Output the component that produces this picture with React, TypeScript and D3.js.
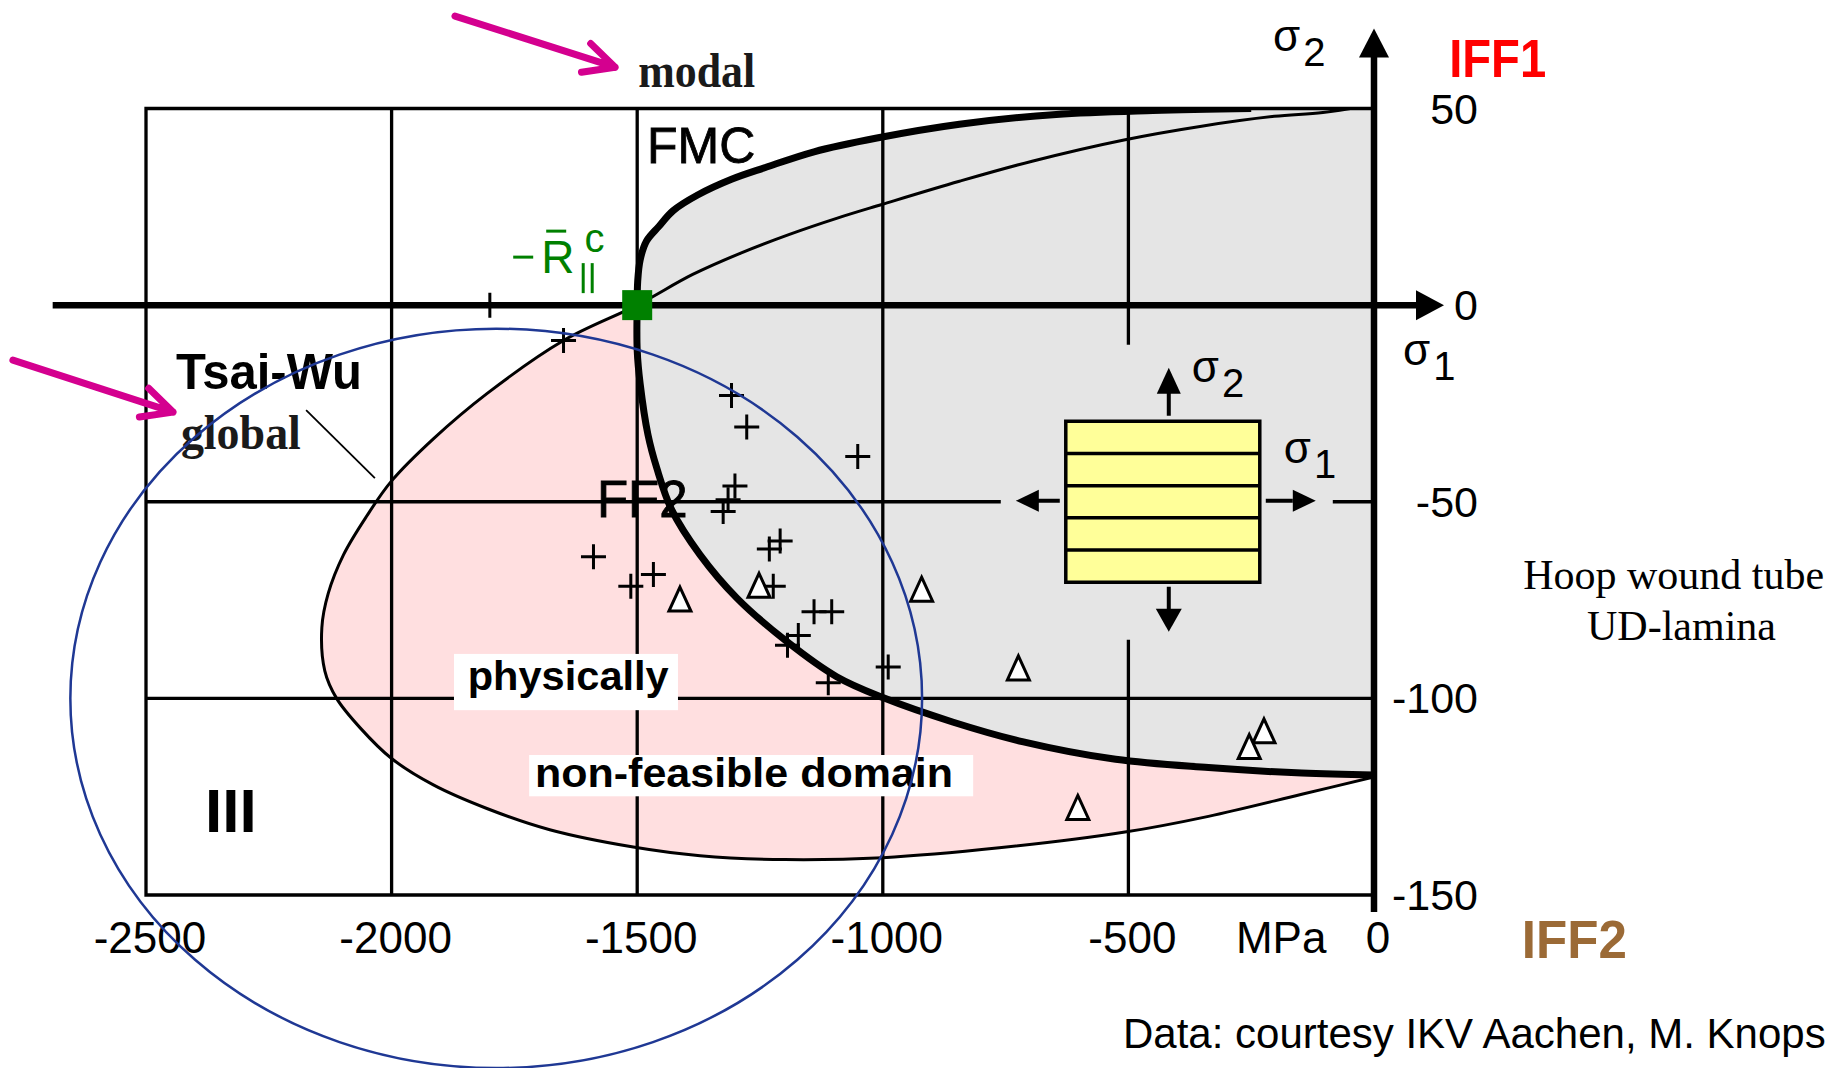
import { useMemo } from "react";
import * as d3 from "d3";

type Pt = [number, number];

// axes (MPa)
const X_TICKS = [-2500, -2000, -1500, -1000, -500, 0];
const Y_TICKS = [50, 0, -50, -100, -150];
const X_GRID = [-2000, -1500, -1000, -500];
const Y_GRID = [-50, -100];

// FMC fracture envelope, upper branch from -R||c up to the top edge
const FMC_UPPER: Pt[] = [
  [-1500, 0], [-1499, 6], [-1494, 11.5], [-1481, 16.3], [-1456, 20], [-1427, 24],
  [-1377, 28], [-1308, 32], [-1239, 35], [-1140, 39], [-1012, 42.5], [-844, 46],
  [-647, 48.5], [-450, 49.5], [-250, 50],
];

// FMC lower branch from -R||c to the sigma2 axis
const FMC_LOWER: Pt[] = [
  [-1500, 0], [-1500, -11.5], [-1494, -20], [-1478, -33], [-1460, -41.5], [-1430, -52],
  [-1372, -63.5], [-1297, -74.5], [-1196, -85.5], [-1094, -94.5], [-1000, -99.8],
  [-858, -106], [-716, -111], [-526, -115.5], [-337, -117.6], [-147, -119], [0, -119.5],
];

// Tsai-Wu (global) curve, top part right to left, ending at -R||c
const TSAI_WU_UPPER: Pt[] = [
  [0, 51], [-104, 49], [-203, 48], [-351, 45.5], [-509, 42], [-696, 36.6], [-844, 31.5],
  [-1002, 25.6], [-1091, 22.2], [-1190, 18], [-1288, 13.3], [-1387, 7.8], [-1500, 0],
];

// Tsai-Wu lower part, from -R||c round the left to the sigma2 axis
const TSAI_WU_LOWER: Pt[] = [
  [-1500, 0], [-1650, -9], [-1806, -22.5], [-1915, -34], [-2000, -44.7], [-2051, -53.7],
  [-2098, -63.5], [-2129, -73.3], [-2142, -82], [-2136, -93], [-2112, -100], [-2064, -107.5],
  [-2000, -115.3], [-1915, -122], [-1806, -128], [-1678, -133.4], [-1508, -137.8],
  [-1372, -140], [-1200, -141], [-1000, -140.5], [-763, -138], [-507, -134], [-337, -130],
  [-147, -124.4], [0, -120],
];

// test results (sigma1, sigma2)
const TEST_PLUS: Pt[] = [
  [-1800, 0], [-1650, -9], [-1308, -23], [-1277, -31], [-1051, -38.5], [-1301, -46],
  [-1315, -49.5], [-1325, -52.5], [-1209, -60], [-1231, -62], [-1589, -64], [-1467, -68.5],
  [-1513, -71.5], [-1223, -71.5], [-1140, -78], [-1104, -78], [-1172, -84], [-1194, -86.5],
  [-989, -92], [-1111, -96],
];
const TEST_TRIANGLE: Pt[] = [
  [-1413, -75], [-1252, -71.5], [-921, -72.5], [-724, -92.5], [-224, -108.5],
  [-254, -112.5], [-603, -128],
];

const R_PAR_C: Pt = [-1500, 0];
const SCATTER_ELLIPSE = { cx: -1787, cy: -100, rx: 867, ry: 94 };
const INSET_CENTER: Pt = [-430, -50];
const POINTER_ARROWS: { from: Pt; to: Pt }[] = [
  { from: [-1871, 73.5], to: [-1545, 60.5] },
  { from: [-2771, -14], to: [-2445, -27.2] },
];

const SANS = "'Liberation Sans', Arial, sans-serif";
const SERIF = "'Liberation Serif', 'Times New Roman', serif";
const GRAY = "#e5e5e5";
const PINK = "#ffdfe0";
const MAGENTA = "#d4008f";
const GREEN = "#008000";

function Arrow({ from, to, color, width }: { from: Pt; to: Pt; color: string; width: number }) {
  const a = Math.atan2(to[1] - from[1], to[0] - from[0]);
  const len = 34;
  const arm = (s: number) =>
    `L${to[0] + len * Math.cos(a + Math.PI + s)},${to[1] + len * Math.sin(a + Math.PI + s)}`;
  return (
    <path
      d={`M${from[0]},${from[1]}L${to[0]},${to[1]}M${to[0]},${to[1]}${arm(0.46)}M${to[0]},${to[1]}${arm(-0.46)}`}
      stroke={color}
      strokeWidth={width}
      strokeLinecap="round"
      strokeLinejoin="round"
      fill="none"
    />
  );
}

// sigma with index, as one text
function Sigma({ x, y, sub }: { x: number; y: number; sub: string }) {
  return (
    <text x={x} y={y} fontFamily={SANS} fontSize={44}>
      σ
      <tspan dx={3} dy={15} fontSize={40}>
        {sub}
      </tspan>
    </text>
  );
}

function Inset({ cx, cy }: { cx: number; cy: number }) {
  const w = 194, h = 161;
  const strips = d3.range(1, 5).map((k) => cy - h / 2 + (k * h) / 5);
  const ax = cx + 6;
  return (
    <g>
      <rect x={cx - 162} y={cy - 157} width={332} height={295} fill={GRAY} />
      <rect x={cx - w / 2} y={cy - h / 2} width={w} height={h} fill="#ffff99" stroke="#000" strokeWidth={3.5} />
      {strips.map((sy) => (
        <line key={sy} x1={cx - w / 2} x2={cx + w / 2} y1={sy} y2={sy} stroke="#000" strokeWidth={3.5} />
      ))}
      {/* up */}
      <line x1={ax} x2={ax} y1={cy - 86} y2={cy - 110} stroke="#000" strokeWidth={4} />
      <path d={`M${ax},${cy - 134}L${ax + 12},${cy - 108}L${ax - 12},${cy - 108}Z`} fill="#000" />
      {/* down */}
      <line x1={ax} x2={ax} y1={cy + 85} y2={cy + 110} stroke="#000" strokeWidth={4} />
      <path d={`M${ax},${cy + 130}L${ax + 13},${cy + 107}L${ax - 13},${cy + 107}Z`} fill="#000" />
      {/* left */}
      <line x1={cx - 103} x2={cx - 125} y1={cy - 1} y2={cy - 1} stroke="#000" strokeWidth={4} />
      <path d={`M${cx - 147},${cy - 1}L${cx - 124},${cy - 12}L${cx - 124},${cy + 10}Z`} fill="#000" />
      {/* right */}
      <line x1={cx + 103} x2={cx + 130} y1={cy - 1} y2={cy - 1} stroke="#000" strokeWidth={4} />
      <path d={`M${cx + 153},${cy - 1}L${cx + 130},${cy - 12}L${cx + 130},${cy + 10}Z`} fill="#000" />
      <Sigma x={cx + 29} y={cy - 120} sub="2" />
      <Sigma x={cx + 121} y={cy - 39} sub="1" />
    </g>
  );
}

export default function App() {
  const W = 1833;
  const H = 1068;

  const x = useMemo(() => d3.scaleLinear().domain([-2500, 0]).range([146, 1374]), []);
  const y = useMemo(() => d3.scaleLinear().domain([-150, 50]).range([895, 108.5]), []);

  const paths = useMemo(() => {
    const line = d3
      .line<Pt>()
      .x((d) => x(d[0]))
      .y((d) => y(d[1]))
      .curve(d3.curveCatmullRom.alpha(0.5));
    const asL = (p: string) => p.replace(/^M/, "L");
    const revLower = [...FMC_LOWER].reverse();
    return {
      fmcUpper: line(FMC_UPPER)!,
      fmcLower: line(FMC_LOWER)!,
      tsaiWu: line([...TSAI_WU_UPPER, ...TSAI_WU_LOWER.slice(1)])!,
      pink: line(TSAI_WU_LOWER)! + asL(line(revLower)!) + "Z",
      gray: line(FMC_UPPER)! + `L${x(0)},${y(50)}` + asL(line(revLower)!) + "Z",
    };
  }, [x, y]);

  const x0 = x(0);
  const y0 = y(0);
  const top = y(50);
  const bottom = y(-150);
  const left = x(-2500);
  const [gx, gy] = [x(R_PAR_C[0]), y(R_PAR_C[1])];
  const [icx, icy] = [x(INSET_CENTER[0]), y(INSET_CENTER[1])];

  return (
    <svg
      width={W}
      height={H}
      style={{ position: "absolute", left: 0, top: 0, display: "block", background: "#fff" }}
    >
      <defs>
        <clipPath id="plot-clip">
          <rect x={left} y={top} width={x0 - left} height={bottom - top} />
        </clipPath>
      </defs>

      {/* domains */}
      <g clipPath="url(#plot-clip)">
        <path d={paths.gray} fill={GRAY} />
        <path d={paths.pink} fill={PINK} />
      </g>

      {/* grid and frame */}
      {X_GRID.map((v) => (
        <line key={v} x1={x(v)} x2={x(v)} y1={top} y2={bottom} stroke="#000" strokeWidth={3.3} />
      ))}
      {Y_GRID.map((v) => (
        <line key={v} x1={left} x2={x0} y1={y(v)} y2={y(v)} stroke="#000" strokeWidth={3.3} />
      ))}
      <path d={`M${x0},${top}H${left}V${bottom}H${x0}`} fill="none" stroke="#000" strokeWidth={3.3} />

      <Inset cx={icx} cy={icy} />

      {/* criteria */}
      <g clipPath="url(#plot-clip)" fill="none" stroke="#000">
        <path d={paths.tsaiWu} strokeWidth={3} />
        <path d={paths.fmcUpper} strokeWidth={7} />
        <path d={paths.fmcLower} strokeWidth={7} />
      </g>

      {/* test data */}
      <g stroke="#000" strokeWidth={3}>
        {TEST_PLUS.map(([a, b], i) => (
          <path key={i} d={`M${x(a) - 12.5},${y(b)}h25M${x(a)},${y(b) - 12.5}v25`} />
        ))}
        {TEST_TRIANGLE.map(([a, b], i) => (
          <path
            key={i}
            d={`M${x(a)},${y(b) - 13}L${x(a) + 11},${y(b) + 11}L${x(a) - 11},${y(b) + 11}Z`}
            fill="#fff"
            strokeLinejoin="miter"
          />
        ))}
      </g>

      {/* domain labels */}
      <rect x={x(-1873)} y={y(-88.7)} width={x(-1417) - x(-1873)} height={y(-103) - y(-88.7)} fill="#fff" />
      <text x={x(-1845)} y={y(-97.9)} fontFamily={SANS} fontWeight="bold" fontSize={41} textLength={201} lengthAdjust="spacingAndGlyphs">
        physically
      </text>
      <rect x={x(-1720)} y={y(-114.4)} width={x(-816) - x(-1720)} height={y(-124.9) - y(-114.4)} fill="#fff" />
      <text x={x(-1708)} y={y(-122.6)} fontFamily={SANS} fontWeight="bold" fontSize={41} textLength={418} lengthAdjust="spacingAndGlyphs">
        non-feasible domain
      </text>

      <text x={x(-1480)} y={y(36.1)} fontFamily={SANS} fontSize={50} stroke="#000" strokeWidth={0.8}>FMC</text>
      <text x={x(-1582)} y={y(-53.9)} fontFamily={SANS} fontSize={51} stroke="#000" strokeWidth={0.8}>FF2</text>
      <text x={x(-2439)} y={y(-21.4)} fontFamily={SANS} fontWeight="bold" fontSize={50} textLength={186} lengthAdjust="spacingAndGlyphs">
        Tsai-Wu
      </text>
      <text x={x(-2380)} y={y(-134)} fontFamily={SANS} fontWeight="bold" fontSize={62}>III</text>
      <line x1={x(-2174)} y1={y(-26.7)} x2={x(-2034)} y2={y(-44)} stroke="#000" strokeWidth={1.8} />
      <text x={x(-1498)} y={y(55.4)} fontFamily={SERIF} fontWeight="bold" fontSize={48} fill="#1a1a1a" textLength={117} lengthAdjust="spacingAndGlyphs">
        modal
      </text>
      <text x={x(-2429)} y={y(-36.6)} fontFamily={SERIF} fontWeight="bold" fontSize={48} fill="#1a1a1a" textLength={120} lengthAdjust="spacingAndGlyphs">
        global
      </text>

      {/* axes */}
      <line x1={x(-2690)} x2={x0 + 44} y1={y0} y2={y0} stroke="#000" strokeWidth={6.5} />
      <path d={`M${x0 + 70},${y0}L${x0 + 42},${y0 - 15}L${x0 + 42},${y0 + 15}Z`} fill="#000" />
      <line x1={x0} x2={x0} y1={bottom + 17} y2={top - 52} stroke="#000" strokeWidth={6.5} />
      <path d={`M${x0},${top - 80}L${x0 + 15},${top - 51}L${x0 - 15},${top - 51}Z`} fill="#000" />

      {X_TICKS.map((t) => (
        <text key={t} x={x(t) + 4} y={bottom + 58} textAnchor="middle" fontFamily={SANS} fontSize={44}>
          {t === 0 ? "0" : `-${Math.abs(t)}`}
        </text>
      ))}
      {Y_TICKS.map((t) => (
        <text key={t} x={x0 + 104} y={y(t)} dy="0.35em" textAnchor="end" fontFamily={SANS} fontSize={43}>
          {t < 0 ? `-${Math.abs(t)}` : `${t}`}
        </text>
      ))}
      <text x={x(-281)} y={bottom + 58} fontFamily={SANS} fontSize={44}>MPa</text>

      <Sigma x={x0 - 101} y={top - 58} sub="2" />
      <Sigma x={x0 + 29} y={y0 + 60} sub="1" />

      <text x={x(153)} y={y(58)} fontFamily={SANS} fontWeight="bold" fontSize={54} fill="#ff0000" textLength={97} lengthAdjust="spacingAndGlyphs">
        IFF1
      </text>
      <text x={x(301)} y={y(-166.1)} fontFamily={SANS} fontWeight="bold" fontSize={54} fill="#9b6a36" textLength={105} lengthAdjust="spacingAndGlyphs">
        IFF2
      </text>

      <text x={x(610)} y={y(-72.2)} textAnchor="middle" fontFamily={SERIF} fontSize={42}>Hoop wound tube</text>
      <text x={x(626)} y={y(-85.2)} textAnchor="middle" fontFamily={SERIF} fontSize={42}>UD-lamina</text>
      <text x={x(-511)} y={y(-189)} fontFamily={SANS} fontSize={42}>Data: courtesy IKV Aachen, M. Knops</text>

      {/* -R||c */}
      <g fill={GREEN} stroke={GREEN}>
        <line x1={gx - 124} x2={gx - 104} y1={gy - 48} y2={gy - 48} strokeWidth={3} />
        <text x={gx - 96} y={gy - 32} fontFamily={SANS} fontSize={46} stroke="none">
          R
          <tspan dx={10} dy={-21} fontSize={40}>c</tspan>
        </text>
        <line x1={gx - 91} x2={gx - 71} y1={gy - 74} y2={gy - 74} strokeWidth={3} />
        <line x1={gx - 54} x2={gx - 54} y1={gy - 42} y2={gy - 12} strokeWidth={3} />
        <line x1={gx - 45} x2={gx - 45} y1={gy - 42} y2={gy - 12} strokeWidth={3} />
        <rect x={gx - 15} y={gy - 15} width={30} height={30} stroke="none" />
      </g>

      {/* scatter band of the test data */}
      <ellipse
        cx={x(SCATTER_ELLIPSE.cx)}
        cy={y(SCATTER_ELLIPSE.cy)}
        rx={x(SCATTER_ELLIPSE.cx + SCATTER_ELLIPSE.rx) - x(SCATTER_ELLIPSE.cx)}
        ry={y(SCATTER_ELLIPSE.cy - SCATTER_ELLIPSE.ry) - y(SCATTER_ELLIPSE.cy)}
        fill="none"
        stroke="#1f3894"
        strokeWidth={2.5}
      />

      {POINTER_ARROWS.map((a, i) => (
        <Arrow
          key={i}
          from={[x(a.from[0]), y(a.from[1])]}
          to={[x(a.to[0]), y(a.to[1])]}
          color={MAGENTA}
          width={7}
        />
      ))}
    </svg>
  );
}
